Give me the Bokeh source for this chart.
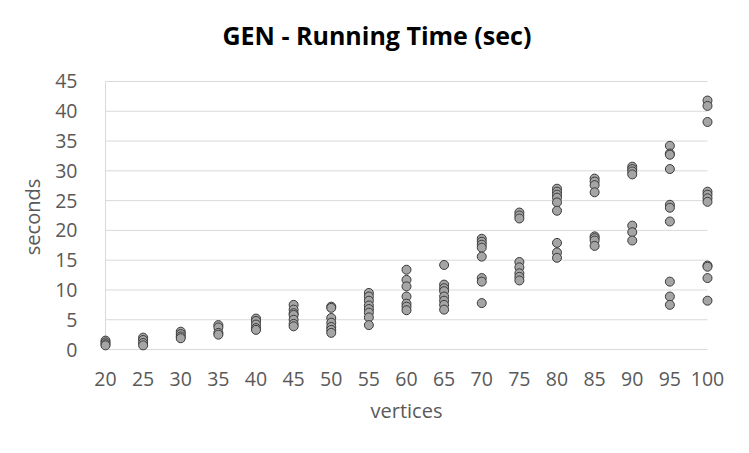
from bokeh.plotting import figure
from bokeh.models import FixedTicker, ColumnDataSource, Title
from bokeh.embed import file_html
from bokeh.resources import INLINE

# ---- data ----
vertex_counts = [20, 25, 30, 35, 40, 45, 50, 55, 60, 65, 70, 75, 80, 85, 90, 95, 100]
s20 = [1.5, 1.2, 0.9, 0.7]
s25 = [2.0, 1.6, 1.1, 0.7]
s30 = [3.0, 2.6, 2.2, 1.9]
s35 = [4.1, 3.7, 2.8, 2.5]
s40 = [5.2, 4.8, 4.2, 3.6, 3.3]
s45 = [7.5, 6.7, 6.1, 5.8, 5.0, 4.3, 3.9]
s50 = [7.2, 7.0, 5.3, 4.5, 3.8, 3.3, 2.8]
s55 = [9.5, 8.9, 8.2, 7.4, 6.8, 6.2, 5.4, 4.1]
s60 = [13.4, 11.7, 10.6, 8.9, 7.7, 7.2, 6.6]
s65 = [14.2, 10.9, 10.3, 9.8, 8.9, 8.2, 7.5, 6.7]
s70 = [18.6, 18.1, 17.6, 17.1, 15.6, 12.0, 11.4, 7.8]
s75 = [23.0, 22.5, 22.0, 14.7, 13.8, 12.8, 12.2, 11.6]
s80 = [27.0, 26.5, 26.0, 25.5, 24.7, 23.3, 17.9, 16.3, 15.4]
s85 = [28.7, 28.2, 27.6, 26.4, 19.0, 18.7, 18.3, 17.4]
s90 = [30.7, 30.3, 29.9, 29.4, 20.8, 19.7, 18.3]
s95 = [34.2, 32.9, 32.7, 30.3, 24.3, 23.8, 21.5, 11.4, 8.9, 7.5]
s100 = [41.8, 40.9, 38.2, 26.5, 26.0, 25.4, 24.8, 14.1, 13.9, 12.0, 8.2]
y_ticks = [0, 5, 10, 15, 20, 25, 30, 35, 40, 45]
title_text = "GEN - Running Time (sec)"

seconds_lists = [s20, s25, s30, s35, s40, s45, s50, s55, s60, s65,
                 s70, s75, s80, s85, s90, s95, s100]

xs, ys = [], []
for v, vals in zip(vertex_counts, seconds_lists):
    xs += [v] * len(vals)
    ys += vals
src = ColumnDataSource(data=dict(x=xs, y=ys))

GRID = "#d9d9d9"
TXT = "#595959"
FONT = "Open Sans"

p = figure(width=741, height=445, output_backend="svg", toolbar_location=None,
           x_range=(18.671, 101.329), y_range=(-1.0, 45.5),
           min_border_left=95, min_border_right=24,
           min_border_top=78, min_border_bottom=90)

p.outline_line_color = None
p.xgrid.visible = False
p.ygrid.visible = False

# gridlines and axis lines spanning the category extent
xmin, xmax = vertex_counts[0], vertex_counts[-1]
p.segment(x0=[xmin] * len(y_ticks), x1=[xmax] * len(y_ticks),
          y0=y_ticks, y1=y_ticks, line_color=GRID, line_width=1)
p.segment(x0=[xmin], x1=[xmin], y0=[y_ticks[0]], y1=[y_ticks[-1]],
          line_color=GRID, line_width=1)

p.scatter("x", "y", source=src, size=9, fill_color="#a5a5a5",
          line_color="#3a3a3a", line_width=1)

# blank spacer panel between the plot frame and the title
p.add_layout(Title(text=" ", text_font_size="1px", standoff=19), "above")

# title
p.title.text = title_text
p.title.align = "left"
p.title.offset = 127
p.title.vertical_align = "bottom"
p.title.standoff = 10
p.title.text_font = FONT
p.title.text_font_style = "bold"
p.title.text_font_size = "25px"
p.title.text_color = "#000000"

# axes
for ax in (p.xaxis[0], p.yaxis[0]):
    ax.axis_line_color = None
    ax.major_tick_line_color = None
    ax.minor_tick_line_color = None
    ax.major_label_text_font = FONT
    ax.major_label_text_font_size = "19.5px"
    ax.major_label_text_color = TXT
    ax.axis_label_text_font = FONT
    ax.axis_label_text_font_size = "20px"
    ax.axis_label_text_font_style = "normal"
    ax.axis_label_text_color = TXT

p.xaxis.ticker = FixedTicker(ticks=vertex_counts)
p.yaxis.ticker = FixedTicker(ticks=y_ticks)
p.xaxis.axis_label = "vertices"
p.yaxis.axis_label = "seconds"
p.xaxis.major_label_standoff = 10
p.xaxis.axis_label_standoff = 8
p.yaxis.major_label_standoff = 12
p.yaxis.axis_label_standoff = 6

open("out.html", "w").write(file_html(p, INLINE))
